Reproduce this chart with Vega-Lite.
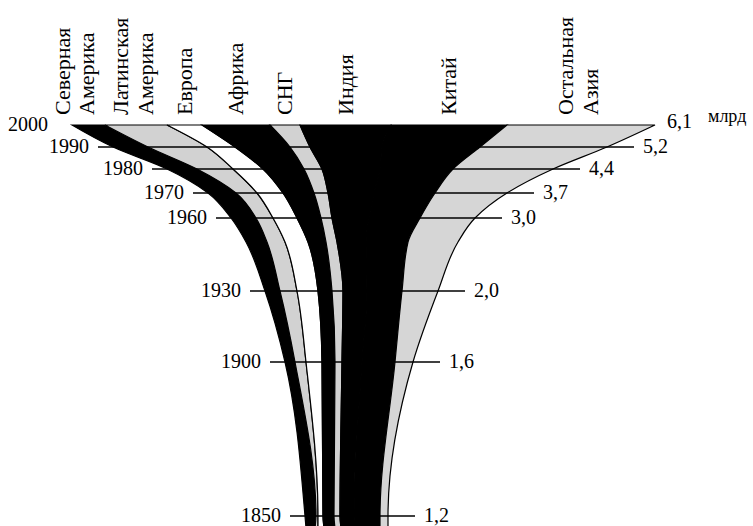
{
  "$schema": "https://vega.github.io/schema/vega-lite/v6.json",
  "width": 753,
  "height": 526,
  "autosize": {"type": "fit", "contains": "padding"},
  "padding": 0,
  "background": "white",
  "config": {
    "view": {"stroke": null},
    "locale": {"number": {"decimal": ",", "thousands": " ", "grouping": [3], "currency": ["", ""]}},
    "text": {"font": "Liberation Serif", "color": "black"}
  },
  "datasets": {
    "totals": [
      {"year": 1850, "total": 1.2},
      {"year": 1900, "total": 1.6},
      {"year": 1930, "total": 2.0},
      {"year": 1960, "total": 3.0},
      {"year": 1970, "total": 3.7},
      {"year": 1980, "total": 4.4},
      {"year": 1990, "total": 5.2},
      {"year": 2000, "total": 6.1}
    ],
    "regions": [
      {"year": 1845, "region": "Северная Америка", "left": 3.06, "right": 3.15},
      {"year": 1850, "region": "Северная Америка", "left": 3.05, "right": 3.16},
      {"year": 1900, "region": "Северная Америка", "left": 2.85, "right": 2.95},
      {"year": 1930, "region": "Северная Америка", "left": 2.65, "right": 2.80},
      {"year": 1950, "region": "Северная Америка", "left": 2.46, "right": 2.67},
      {"year": 1960, "region": "Северная Америка", "left": 2.31, "right": 2.56},
      {"year": 1970, "region": "Северная Америка", "left": 2.08, "right": 2.36},
      {"year": 1980, "region": "Северная Америка", "left": 1.67, "right": 1.97},
      {"year": 1990, "region": "Северная Америка", "left": 1.13, "right": 1.48},
      {"year": 2000, "region": "Северная Америка", "left": 0.72, "right": 1.05},

      {"year": 1845, "region": "Латинская Америка", "left": 3.15, "right": 3.18},
      {"year": 1850, "region": "Латинская Америка", "left": 3.16, "right": 3.18},
      {"year": 1900, "region": "Латинская Америка", "left": 2.95, "right": 3.06},
      {"year": 1930, "region": "Латинская Америка", "left": 2.80, "right": 2.97},
      {"year": 1950, "region": "Латинская Америка", "left": 2.67, "right": 2.85},
      {"year": 1960, "region": "Латинская Америка", "left": 2.56, "right": 2.73},
      {"year": 1970, "region": "Латинская Америка", "left": 2.36, "right": 2.57},
      {"year": 1980, "region": "Латинская Америка", "left": 1.97, "right": 2.33},
      {"year": 1990, "region": "Латинская Америка", "left": 1.48, "right": 2.07},
      {"year": 2000, "region": "Латинская Америка", "left": 1.05, "right": 1.67},

      {"year": 1845, "region": "Европа", "left": 3.18, "right": 3.24},
      {"year": 1850, "region": "Европа", "left": 3.18, "right": 3.23},
      {"year": 1900, "region": "Европа", "left": 3.06, "right": 3.22},
      {"year": 1930, "region": "Европа", "left": 2.97, "right": 3.18},
      {"year": 1950, "region": "Европа", "left": 2.85, "right": 3.08},
      {"year": 1960, "region": "Европа", "left": 2.73, "right": 2.97},
      {"year": 1970, "region": "Европа", "left": 2.57, "right": 2.83},
      {"year": 1980, "region": "Европа", "left": 2.33, "right": 2.63},
      {"year": 1990, "region": "Европа", "left": 2.07, "right": 2.35},
      {"year": 2000, "region": "Европа", "left": 1.67, "right": 2.02},

      {"year": 1845, "region": "Африка", "left": 3.24, "right": 3.35},
      {"year": 1850, "region": "Африка", "left": 3.23, "right": 3.34},
      {"year": 1900, "region": "Африка", "left": 3.22, "right": 3.35},
      {"year": 1930, "region": "Африка", "left": 3.18, "right": 3.32},
      {"year": 1950, "region": "Африка", "left": 3.08, "right": 3.26},
      {"year": 1960, "region": "Африка", "left": 2.97, "right": 3.21},
      {"year": 1970, "region": "Африка", "left": 2.83, "right": 3.14},
      {"year": 1980, "region": "Африка", "left": 2.63, "right": 3.04},
      {"year": 1990, "region": "Африка", "left": 2.35, "right": 2.90},
      {"year": 2000, "region": "Африка", "left": 2.02, "right": 2.70},

      {"year": 1845, "region": "СНГ", "left": 3.35, "right": 3.41},
      {"year": 1850, "region": "СНГ", "left": 3.34, "right": 3.40},
      {"year": 1900, "region": "СНГ", "left": 3.35, "right": 3.42},
      {"year": 1930, "region": "СНГ", "left": 3.32, "right": 3.43},
      {"year": 1950, "region": "СНГ", "left": 3.26, "right": 3.37},
      {"year": 1960, "region": "СНГ", "left": 3.21, "right": 3.32},
      {"year": 1970, "region": "СНГ", "left": 3.14, "right": 3.28},
      {"year": 1980, "region": "СНГ", "left": 3.04, "right": 3.22},
      {"year": 1990, "region": "СНГ", "left": 2.90, "right": 3.10},
      {"year": 2000, "region": "СНГ", "left": 2.70, "right": 3.00},

      {"year": 1845, "region": "Индия", "left": 3.41, "right": 3.55},
      {"year": 1850, "region": "Индия", "left": 3.40, "right": 3.54},
      {"year": 1900, "region": "Индия", "left": 3.42, "right": 3.62},
      {"year": 1930, "region": "Индия", "left": 3.43, "right": 3.67},
      {"year": 1950, "region": "Индия", "left": 3.37, "right": 3.66},
      {"year": 1960, "region": "Индия", "left": 3.32, "right": 3.69},
      {"year": 1970, "region": "Индия", "left": 3.28, "right": 3.74},
      {"year": 1980, "region": "Индия", "left": 3.22, "right": 3.80},
      {"year": 1990, "region": "Индия", "left": 3.10, "right": 3.82},
      {"year": 2000, "region": "Индия", "left": 3.00, "right": 3.91},

      {"year": 1845, "region": "Китай", "left": 3.55, "right": 3.80},
      {"year": 1850, "region": "Китай", "left": 3.54, "right": 3.80},
      {"year": 1900, "region": "Китай", "left": 3.62, "right": 3.95},
      {"year": 1930, "region": "Китай", "left": 3.67, "right": 4.02},
      {"year": 1950, "region": "Китай", "left": 3.66, "right": 4.08},
      {"year": 1960, "region": "Китай", "left": 3.69, "right": 4.20},
      {"year": 1970, "region": "Китай", "left": 3.74, "right": 4.35},
      {"year": 1980, "region": "Китай", "left": 3.80, "right": 4.53},
      {"year": 1990, "region": "Китай", "left": 3.82, "right": 4.80},
      {"year": 2000, "region": "Китай", "left": 3.91, "right": 5.07},

      {"year": 1845, "region": "Остальная Азия", "left": 3.80, "right": 3.88},
      {"year": 1850, "region": "Остальная Азия", "left": 3.80, "right": 3.88},
      {"year": 1900, "region": "Остальная Азия", "left": 3.95, "right": 4.13},
      {"year": 1930, "region": "Остальная Азия", "left": 4.02, "right": 4.38},
      {"year": 1950, "region": "Остальная Азия", "left": 4.08, "right": 4.58},
      {"year": 1960, "region": "Остальная Азия", "left": 4.20, "right": 4.75},
      {"year": 1970, "region": "Остальная Азия", "left": 4.35, "right": 5.07},
      {"year": 1980, "region": "Остальная Азия", "left": 4.53, "right": 5.53},
      {"year": 1990, "region": "Остальная Азия", "left": 4.80, "right": 6.07},
      {"year": 2000, "region": "Остальная Азия", "left": 5.07, "right": 6.55}
    ]
  },
  "layer": [
    {
      "data": {"name": "regions"},
      "mark": {"type": "area", "orient": "horizontal", "interpolate": "monotone", "stroke": "black", "strokeWidth": 1.2, "clip": true, "opacity": 1},
      "encoding": {
        "y": {"field": "year", "type": "quantitative", "axis": null,
              "scale": {"domain": [1845, 1850, 1900, 1930, 1950, 1960, 1970, 1980, 1990, 2000, 2050], "range": [528, 516, 362, 291, 242, 218, 193, 169, 147, 125, 0], "nice": false, "zero": false}},
        "x": {"field": "left", "type": "quantitative", "axis": null, "scale": {"domain": [0, 7.53], "nice": false, "zero": false}},
        "x2": {"field": "right"},
        "color": {"field": "region", "type": "nominal", "legend": null,
                  "scale": {"domain": ["Северная Америка", "Латинская Америка", "Европа", "Африка", "СНГ", "Индия", "Китай", "Остальная Азия"],
                            "range": ["#000000", "#d2d2d2", "#ffffff", "#000000", "#d2d2d2", "#000000", "#000000", "#d6d6d6"]}}
      }
    },
    {
      "data": {"name": "regions"},
      "transform": [
        {"filter": {"field": "year", "oneOf": [1850, 1900, 1930, 1960, 1970, 1980, 1990]}},
        {"aggregate": [{"op": "min", "field": "left", "as": "lo"}, {"op": "max", "field": "right", "as": "hi"}], "groupby": ["year"]}
      ],
      "mark": {"type": "rule", "color": "black", "strokeWidth": 1.5, "xOffset": -15, "x2Offset": 27},
      "encoding": {
        "y": {"field": "year", "type": "quantitative"},
        "x": {"field": "lo", "type": "quantitative"},
        "x2": {"field": "hi"}
      }
    },
    {
      "data": {"name": "regions"},
      "transform": [
        {"filter": {"field": "year", "oneOf": [1850, 1900, 1930, 1960, 1970, 1980, 1990, 2000]}},
        {"aggregate": [{"op": "min", "field": "left", "as": "lo"}], "groupby": ["year"]}
      ],
      "mark": {"type": "text", "align": "right", "baseline": "middle", "dx": -24, "dy": 0, "fontSize": 20},
      "encoding": {
        "y": {"field": "year", "type": "quantitative"},
        "x": {"field": "lo", "type": "quantitative"},
        "text": {"field": "year", "type": "nominal"}
      }
    },
    {
      "data": {"name": "regions"},
      "transform": [
        {"filter": {"field": "year", "oneOf": [1850, 1900, 1930, 1960, 1970, 1980, 1990]}},
        {"aggregate": [{"op": "max", "field": "right", "as": "hi"}], "groupby": ["year"]},
        {"lookup": "year", "from": {"data": {"name": "totals"}, "key": "year", "fields": ["total"]}}
      ],
      "mark": {"type": "text", "align": "left", "baseline": "middle", "dx": 36, "dy": 0, "fontSize": 20},
      "encoding": {
        "y": {"field": "year", "type": "quantitative"},
        "x": {"field": "hi", "type": "quantitative"},
        "text": {"field": "total", "type": "quantitative", "format": ".1f"}
      }
    },
    {
      "data": {"name": "regions"},
      "transform": [
        {"filter": {"field": "year", "equal": 2000}},
        {"aggregate": [{"op": "max", "field": "right", "as": "hi"}], "groupby": ["year"]},
        {"lookup": "year", "from": {"data": {"name": "totals"}, "key": "year", "fields": ["total"]}}
      ],
      "mark": {"type": "text", "align": "left", "baseline": "middle", "dx": 12, "dy": -3, "fontSize": 20},
      "encoding": {
        "y": {"field": "year", "type": "quantitative"},
        "x": {"field": "hi", "type": "quantitative"},
        "text": {"field": "total", "type": "quantitative", "format": ".1f"}
      }
    },
    {
      "data": {"name": "regions"},
      "transform": [
        {"filter": {"field": "year", "equal": 2000}},
        {"aggregate": [{"op": "max", "field": "right", "as": "hi"}], "groupby": ["year"]}
      ],
      "mark": {"type": "text", "text": "млрд", "align": "left", "baseline": "middle", "dx": 53, "dy": -8, "fontSize": 18},
      "encoding": {
        "y": {"field": "year", "type": "quantitative"},
        "x": {"field": "hi", "type": "quantitative"}
      }
    },
    {
      "data": {"name": "regions"},
      "transform": [
        {"filter": {"field": "year", "equal": 2000}},
        {"filter": {"field": "region", "oneOf": ["Европа", "Африка", "СНГ", "Индия", "Китай"]}},
        {"fold": ["left", "right"], "as": ["edge", "pos"]},
        {"aggregate": [{"op": "mean", "field": "pos", "as": "mid"}], "groupby": ["region"]}
      ],
      "mark": {"type": "text", "angle": 270, "align": "left", "baseline": "middle", "fontSize": 22},
      "encoding": {
        "y": {"datum": 2004, "type": "quantitative"},
        "x": {"field": "mid", "type": "quantitative"},
        "text": {"field": "region", "type": "nominal"}
      }
    },
    {
      "data": {"name": "regions"},
      "transform": [
        {"filter": {"field": "year", "equal": 2000}},
        {"filter": {"field": "region", "oneOf": ["Латинская Америка", "Остальная Азия"]}},
        {"fold": ["left", "right"], "as": ["edge", "pos"]},
        {"aggregate": [{"op": "mean", "field": "pos", "as": "mid"}], "groupby": ["region"]}
      ],
      "mark": {"type": "text", "angle": 270, "align": "left", "baseline": "middle", "lineBreak": " ", "lineHeight": 25, "dy": -15, "fontSize": 22},
      "encoding": {
        "y": {"datum": 2004, "type": "quantitative"},
        "x": {"field": "mid", "type": "quantitative"},
        "text": {"field": "region", "type": "nominal"}
      }
    },
    {
      "data": {"name": "regions"},
      "transform": [
        {"filter": {"field": "year", "equal": 2000}},
        {"filter": {"field": "region", "equal": "Северная Америка"}},
        {"fold": ["left", "right"], "as": ["edge", "pos"]},
        {"aggregate": [{"op": "mean", "field": "pos", "as": "mid"}], "groupby": ["region"]}
      ],
      "mark": {"type": "text", "angle": 270, "align": "left", "baseline": "middle", "lineBreak": " ", "lineHeight": 24, "dy": -26, "fontSize": 22},
      "encoding": {
        "y": {"datum": 2004, "type": "quantitative"},
        "x": {"field": "mid", "type": "quantitative"},
        "text": {"field": "region", "type": "nominal"}
      }
    }
  ]
}
